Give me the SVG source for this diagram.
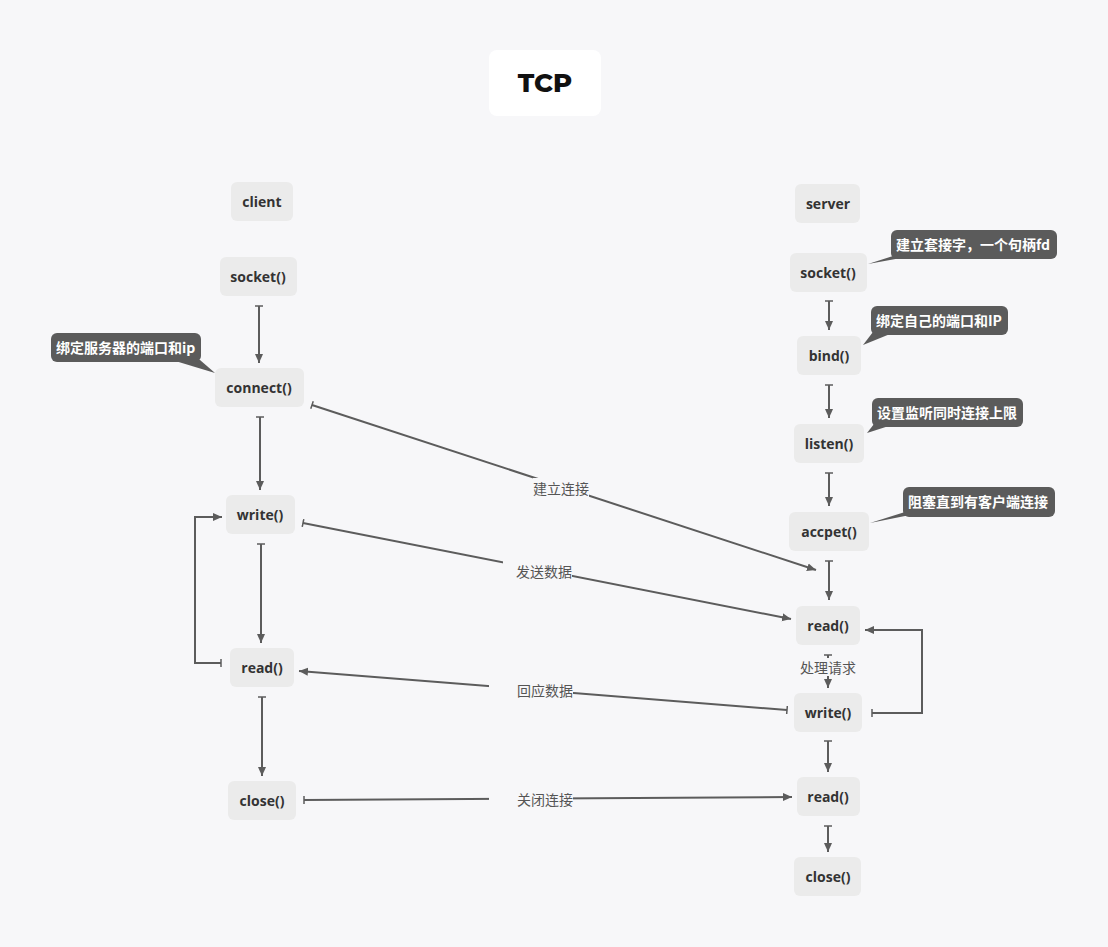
<svg xmlns="http://www.w3.org/2000/svg" width="1108" height="947" viewBox="0 0 1108 947">
<style>
.bg{fill:#f7f7f9}
.node rect{fill:#ebebeb}
.node text{font-family:"Open Sans",Lato,"Noto Sans CJK SC",sans-serif;font-weight:700;font-size:14px;fill:#333;text-anchor:middle;dominant-baseline:central}
.note rect,.note polygon{fill:#5b5b5b}
.note text{font-family:"Noto Sans CJK SC","Noto Sans",sans-serif;font-weight:700;font-size:14px;fill:#fff;dominant-baseline:central}
.conn path{fill:none;stroke:#5c5c5c;stroke-width:2;marker-start:url(#bar);marker-end:url(#arr)}
.lbl rect{fill:#f7f7f9}
.lbl text{font-family:"Noto Sans CJK SC","Noto Sans",sans-serif;font-size:14px;fill:#555;text-anchor:middle;dominant-baseline:central}
</style>
<defs>
<marker id="arr" markerWidth="10" markerHeight="10" refX="9" refY="5" orient="auto" markerUnits="userSpaceOnUse"><path d="M0,1 L9,5 L0,9 z" fill="#5c5c5c"/></marker>
<marker id="bar" markerWidth="4" markerHeight="10" refX="1" refY="5" orient="auto" markerUnits="userSpaceOnUse"><path d="M1,1 L1,9" stroke="#5c5c5c" stroke-width="1.5"/></marker>
</defs>
<rect class="bg" x="0" y="0" width="1108" height="947"/>
<g id="title"><rect x="489" y="50" width="112" height="66" rx="8" fill="#ffffff"/><text x="545" y="83" font-family="Montserrat,Lato,'Open Sans',sans-serif" font-weight="800" font-size="26" fill="#111" text-anchor="middle" dominant-baseline="central">TCP</text></g>

<g id="connectors" class="conn">
<path d="M259,306 L259,363"/>
<path d="M260,417 L260,490"/>
<path d="M261,544 L261,643"/>
<path d="M262,697 L262,776"/>
<path d="M221,663 L195,663 L195,517 L222,517"/>
<path d="M829,301 L829,330"/>
<path d="M829,385 L829,418"/>
<path d="M829,473 L829,506"/>
<path d="M829,561 L829,600"/>
<path d="M828,655 L828,688"/>
<path d="M872,713 L922,713 L922,630 L865,630"/>
<path d="M828,741 L828,772"/>
<path d="M828,826 L828,852"/>
<path d="M312,405 L816,570"/>
<path d="M303,523 L791,619"/>
<path d="M787,710 L299,671"/>
<path d="M304,800 L792,797"/>
</g>
<g id="labels" class="lbl">
<g><rect x="533" y="478" width="56" height="20"/><text x="561" y="488">建立连接</text></g>
<g><rect x="503" y="561" width="69" height="20"/><text x="544" y="571">发送数据</text></g>
<g><rect x="489" y="680" width="84" height="20"/><text x="545" y="690">回应数据</text></g>
<g><rect x="489" y="789" width="84" height="20"/><text x="545" y="799">关闭连接</text></g>
<g><rect x="798" y="658" width="60" height="18"/><text x="828" y="667">处理请求</text></g>
</g>

<g id="n-client" class="node"><rect x="231" y="182" width="62" height="39" rx="6"/><text x="262" y="201">client</text></g>
<g id="n-csocket" class="node"><rect x="220" y="257" width="77" height="39" rx="6"/><text x="258" y="276">socket()</text></g>
<g id="n-connect" class="node"><rect x="215" y="368" width="89" height="39" rx="6"/><text x="259" y="387">connect()</text></g>
<g id="n-cwrite" class="node"><rect x="226" y="495" width="69" height="39" rx="6"/><text x="260" y="514">write()</text></g>
<g id="n-cread" class="node"><rect x="230" y="648" width="64" height="39" rx="6"/><text x="262" y="667">read()</text></g>
<g id="n-cclose" class="node"><rect x="228" y="781" width="68" height="39" rx="6"/><text x="262" y="800">close()</text></g>

<g id="n-server" class="node"><rect x="795" y="184" width="65" height="39" rx="6"/><text x="828" y="203">server</text></g>
<g id="n-ssocket" class="node"><rect x="790" y="253" width="77" height="39" rx="6"/><text x="828" y="272">socket()</text></g>
<g id="n-bind" class="node"><rect x="797" y="336" width="64" height="39" rx="6"/><text x="829" y="355">bind()</text></g>
<g id="n-listen" class="node"><rect x="794" y="424" width="70" height="39" rx="6"/><text x="829" y="443">listen()</text></g>
<g id="n-accpet" class="node"><rect x="789" y="512" width="80" height="39" rx="6"/><text x="829" y="531">accpet()</text></g>
<g id="n-sread" class="node"><rect x="796" y="606" width="64" height="39" rx="6"/><text x="828" y="625">read()</text></g>
<g id="n-swrite" class="node"><rect x="794" y="693" width="68" height="39" rx="6"/><text x="828" y="712">write()</text></g>
<g id="n-sread2" class="node"><rect x="797" y="777" width="63" height="39" rx="6"/><text x="828" y="796">read()</text></g>
<g id="n-sclose" class="node"><rect x="794" y="857" width="67" height="39" rx="6"/><text x="828" y="876">close()</text></g>

<g id="note-connect" class="note"><polygon points="172,360 200,360 215,373"/><rect x="51" y="333" width="150" height="29" rx="6"/><text x="56" y="347">绑定服务器的端口和ip</text></g>
<g id="note-socket" class="note"><polygon points="893,256 912,256 868,264"/><rect x="891" y="230" width="166" height="29" rx="6"/><text x="896" y="244">建立套接字，一个句柄fd</text></g>
<g id="note-bind" class="note"><polygon points="873,332 895,332 863,345"/><rect x="871" y="306" width="137" height="29" rx="6"/><text x="876" y="320">绑定自己的端口和IP</text></g>
<g id="note-listen" class="note"><polygon points="874,424 895,424 867,433"/><rect x="872" y="398" width="151" height="29" rx="6"/><text x="877" y="412">设置监听同时连接上限</text></g>
<g id="note-accpet" class="note"><polygon points="905,512 925,512 870,523"/><rect x="903" y="487" width="152" height="30" rx="6"/><text x="908" y="501">阻塞直到有客户端连接</text></g>
</svg>
